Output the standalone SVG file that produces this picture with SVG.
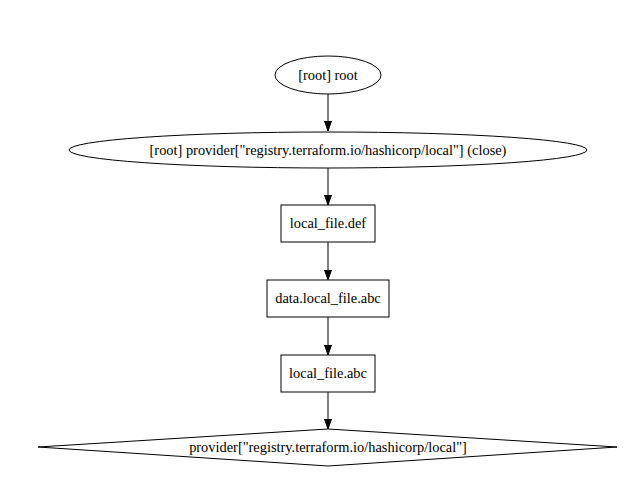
<svg xmlns="http://www.w3.org/2000/svg" width="635" height="492" viewBox="0 0 635 492">
<style>
.s{fill:#fff;stroke:#000;stroke-width:1}
.t{font-family:'Liberation Serif',Times,serif;font-size:14.4px;fill:#000;text-anchor:middle}
.e{stroke:#000;stroke-width:1;fill:none;marker-end:url(#a)}
</style>
<defs><marker id="a" markerWidth="10" markerHeight="10" refX="10" refY="3.5" orient="auto" markerUnits="userSpaceOnUse" viewBox="0 0 10 7"><path d="M0,0 L10,3.5 L0,7 z" fill="#000" stroke="#000"/></marker></defs>
<rect width="635" height="492" fill="#fff"/>
<g id="edges">
<line class="e" x1="328" y1="94" x2="328" y2="131"/>
<line class="e" x1="328" y1="168" x2="328" y2="205"/>
<line class="e" x1="328" y1="242" x2="328" y2="280"/>
<line class="e" x1="328" y1="317" x2="328" y2="355"/>
<line class="e" x1="328" y1="392" x2="328" y2="429"/>
</g>
<g id="root"><ellipse class="s" cx="328" cy="75" rx="53" ry="19"/><text class="t" x="328" y="80">[root] root</text></g>
<g id="provider_close"><ellipse class="s" cx="328" cy="150" rx="259" ry="18"/><text class="t" x="328" y="155">[root] provider["registry.terraform.io/hashicorp/local"] (close)</text></g>
<g id="local_file_def"><rect class="s" x="281" y="205" width="94" height="37"/><text class="t" x="328" y="228">local_file.def</text></g>
<g id="data_local_file_abc"><rect class="s" x="267" y="280" width="122" height="37"/><text class="t" x="328" y="303">data.local_file.abc</text></g>
<g id="local_file_abc"><rect class="s" x="281" y="355" width="94" height="37"/><text class="t" x="328" y="378">local_file.abc</text></g>
<g id="provider"><polygon class="s" points="328,429 617,447 328,466 38,447"/><text class="t" x="328" y="452">provider["registry.terraform.io/hashicorp/local"]</text></g>
</svg>
